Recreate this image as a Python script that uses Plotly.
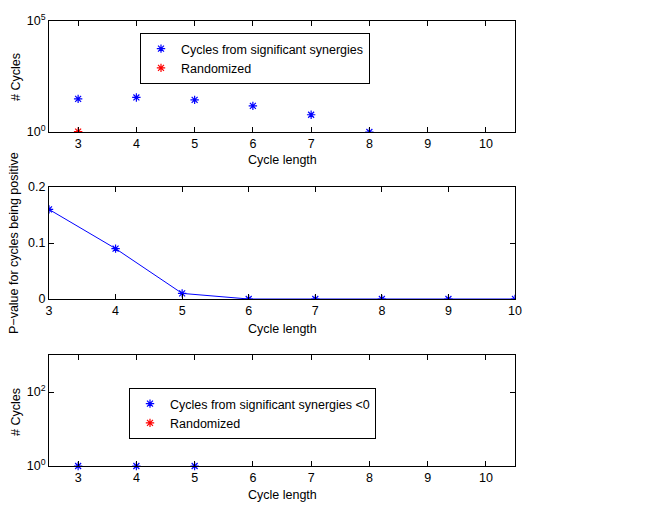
import plotly.graph_objects as go

cycle_len = [3, 4, 5, 6, 7, 8, 9, 10]
top_sig = [31, 36, 28, 15, 6, 1, None, None]
top_rand = [1.05, None, None, None, None, None, None, None]
pvals = [0.16, 0.09, 0.01, 0.0, 0.0, 0.0, 0.0, 0.0]
bot_sig = [1, 1, 1, None, None, None, None, None]
bot_rand = [None, None, None, None, None, None, None, None]
x_ticks = [3, 4, 5, 6, 7, 8, 9, 10]

OFF = 8  # page body margin
W, H = 645 - OFF, 510 - OFF
FONT = "Liberation Sans, Arial, sans-serif"
FS = 12.5
BLUE = "#0000ff"
RED = "#ff0000"

def px_x(p):
    return (p - OFF) / W

def px_y(p):
    return 1 - (p - OFF) / H

fig = go.Figure()

def mk(color):
    return dict(symbol="asterisk-open", size=7, color=color, line=dict(width=1.2, color=color))

fig.add_trace(go.Scatter(x=cycle_len, y=top_sig, mode="markers", name="Cycles from significant synergies",
                         marker=mk(BLUE), xaxis="x", yaxis="y", legend="legend"))
fig.add_trace(go.Scatter(x=cycle_len, y=top_rand, mode="markers", name="Randomized",
                         marker=mk(RED), xaxis="x", yaxis="y", legend="legend"))
fig.add_trace(go.Scatter(x=cycle_len, y=pvals, mode="lines+markers", name="p",
                         line=dict(color=BLUE, width=1), marker=mk(BLUE),
                         xaxis="x2", yaxis="y2", showlegend=False))
fig.add_trace(go.Scatter(x=cycle_len, y=bot_sig, mode="markers", name="Cycles from significant synergies <0",
                         marker=mk(BLUE), xaxis="x3", yaxis="y3", legend="legend2", cliponaxis=False))
fig.add_trace(go.Scatter(x=cycle_len, y=bot_rand, mode="markers", name="Randomized",
                         marker=mk(RED), xaxis="x3", yaxis="y3", legend="legend2"))

ax_common = dict(showline=True, linecolor="black", linewidth=1, mirror="ticks", ticks="inside",
                 ticklen=5, tickcolor="black", showgrid=False, zeroline=False, automargin=False,
                 tickfont=dict(family=FONT, size=FS, color="black"))
xdom = [px_x(49), px_x(515)]

legend_common = dict(xanchor="left", yanchor="top", bordercolor="black", borderwidth=1, bgcolor="white",
                     font=dict(family=FONT, size=FS), tracegroupgap=0, itemwidth=30)

fig.update_layout(
    width=W, height=H, margin=dict(l=0, r=0, t=0, b=0, autoexpand=False),
    paper_bgcolor="white", plot_bgcolor="white",
    font=dict(family=FONT, size=FS, color="black"),
    xaxis=dict(domain=xdom, range=[2.5, 10.5], tickvals=x_ticks, anchor="y", **ax_common),
    yaxis=dict(domain=[px_y(132), px_y(21)], type="log", range=[0, 5],
               tickvals=[1, 1e5], ticktext=["10<sup>0</sup>", "10<sup>5</sup>"], anchor="x", **ax_common),
    xaxis2=dict(domain=xdom, range=[3, 10], tickvals=x_ticks, anchor="y2", **ax_common),
    yaxis2=dict(domain=[px_y(299), px_y(187)], range=[0, 0.2], tickvals=[0, 0.1, 0.2],
                ticktext=["0", "0.1", "0.2"], anchor="x2", **ax_common),
    xaxis3=dict(domain=xdom, range=[2.5, 10.5], tickvals=x_ticks, anchor="y3", **ax_common),
    yaxis3=dict(domain=[px_y(466), px_y(355)], type="log", range=[0, 3],
                tickvals=[1, 100], ticktext=["10<sup>0</sup>", "10<sup>2</sup>"], anchor="x3", **ax_common),
    legend=dict(x=px_x(140), y=px_y(33), entrywidth=185, **legend_common),
    legend2=dict(x=px_x(129), y=px_y(388), entrywidth=200, **legend_common),
    showlegend=True,
)

ann = []
for yc in [160, 329, 495]:
    ann.append(dict(text="Cycle length", x=px_x((49 + 515) / 2), y=px_y(yc), xref="paper", yref="paper",
                    showarrow=False, xanchor="center", yanchor="middle", font=dict(size=FS)))
ann.append(dict(text="# Cycles", x=px_x(16), y=px_y(77), xref="paper", yref="paper", textangle=-90,
                showarrow=False, xanchor="center", yanchor="middle", font=dict(size=FS)))
ann.append(dict(text="P\u2212value for cycles being positive", x=px_x(14), y=px_y(243), xref="paper",
                yref="paper", textangle=-90, showarrow=False, xanchor="center", yanchor="middle",
                font=dict(size=FS)))
ann.append(dict(text="# Cycles", x=px_x(16), y=px_y(412), xref="paper", yref="paper", textangle=-90,
                showarrow=False, xanchor="center", yanchor="middle", font=dict(size=FS)))
fig.update_layout(annotations=ann)

fig.write_html("out.html")
